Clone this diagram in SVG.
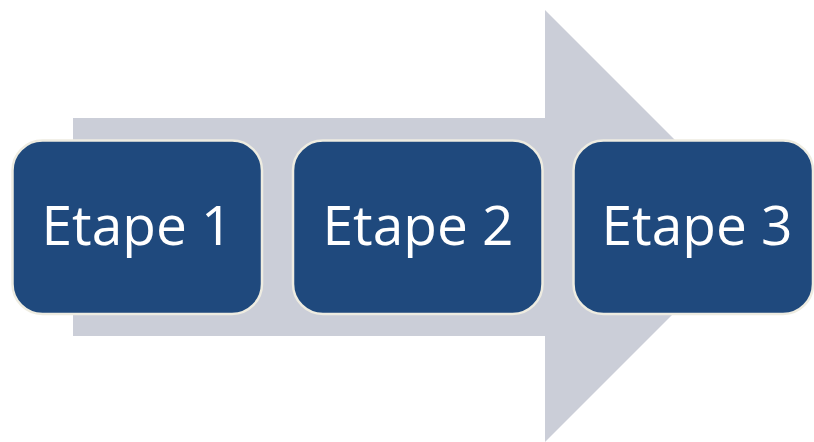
<svg xmlns="http://www.w3.org/2000/svg" width="814" height="442" viewBox="0 0 814 442">
<style>
.box{fill:#1F497D;stroke:#EEECE1;stroke-width:2.5}
.lbl{font-family:"Open Sans","Noto Sans",sans-serif;font-size:55px;fill:#FFFFFF;text-anchor:middle}
</style>
<rect width="814" height="442" fill="#FFFFFF"/>
<g id="arrow">
<polygon points="73,118 545,118 545,10 761,226 545,442 545,336 73,336" fill="#CBCED8"/>
</g>
<g id="connectors"></g>
<g id="etape1">
<rect class="box" x="12.5" y="140.5" width="249.5" height="173.5" rx="30"/>
<text class="lbl" x="137" y="245">Etape 1</text>
</g>
<g id="etape2">
<rect class="box" x="293" y="140.5" width="249.5" height="173.5" rx="30"/>
<text class="lbl" x="418" y="245">Etape 2</text>
</g>
<g id="etape3">
<rect class="box" x="573.5" y="140.5" width="239.5" height="173.5" rx="30"/>
<text class="lbl" x="697" y="245">Etape 3</text>
</g>
</svg>
